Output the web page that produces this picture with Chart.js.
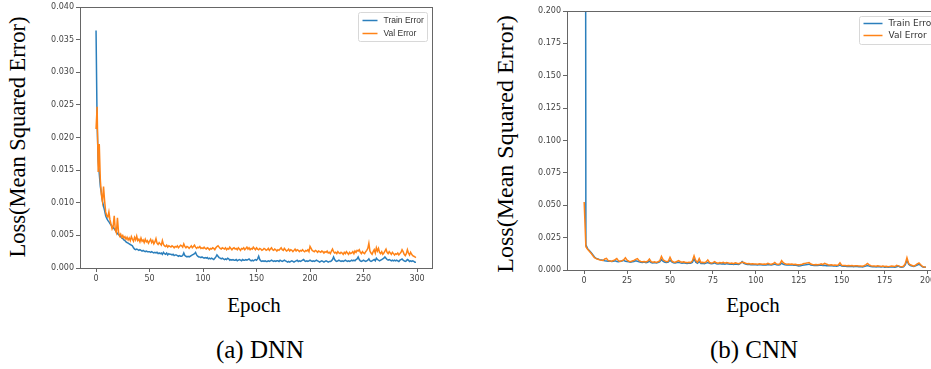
<!DOCTYPE html>
<html>
<head>
<meta charset="utf-8">
<script src="https://cdn.jsdelivr.net/npm/chart.js@4"></script>
<style>
  html, body { margin: 0; padding: 0; width: 931px; height: 369px; overflow: hidden; background: #fff; }
  canvas { position: absolute; top: 0; }
  .lbl { position: absolute; font-family: "Liberation Serif", "DejaVu Serif", serif; color: #000; line-height: 1; white-space: nowrap; }
  .ylab { transform: translate(-50%, -50%) rotate(-90deg); }
  .ctr { transform: translateX(-50%); }
</style>
</head>
<body>
<canvas id="dnn" width="400" height="290" style="left:40px"></canvas>
<canvas id="cnn" width="424" height="292" style="left:527px"></canvas>

<div class="lbl ylab" style="left:18px;top:137px;font-size:22.5px">Loss(Mean Squared Error)</div>
<div class="lbl ylab" style="left:505px;top:144px;font-size:24px">Loss(Mean Squared Error)</div>
<div class="lbl ctr" style="left:254px;top:295px;font-size:21px">Epoch</div>
<div class="lbl ctr" style="left:753px;top:295px;font-size:21px">Epoch</div>
<div class="lbl ctr" style="left:260px;top:337px;font-size:25px">(a) DNN</div>
<div class="lbl ctr" style="left:754px;top:337px;font-size:25px">(b) CNN</div>

<script>
// (a) DNN - 300 epochs
const dnnTrain = [
  0.0364, 0.0220, 0.0165, 0.0145, 0.0125, 0.0115, 0.0102, 0.0095, 0.0088, 0.0080,
  0.0076, 0.0073, 0.0071, 0.0068, 0.0066, 0.0064, 0.0062, 0.0060, 0.0058, 0.0055,
  0.0053, 0.0051, 0.0050, 0.0048, 0.0046, 0.0045, 0.0043, 0.0042, 0.0040, 0.0039,
  0.0038, 0.0037, 0.0036, 0.0035, 0.0034, 0.0031, 0.0029, 0.0028, 0.0029, 0.0028,
  0.0027, 0.0028, 0.0027, 0.0026, 0.0027, 0.0026, 0.0025, 0.0026, 0.0025, 0.0025,
  0.0025, 0.0024, 0.0025, 0.0024, 0.0023, 0.0024, 0.0023, 0.0024, 0.0022, 0.0023,
  0.0022, 0.0023, 0.0021, 0.0024, 0.0022, 0.0021, 0.0023, 0.0020, 0.0022, 0.0021,
  0.0021, 0.0020, 0.0021, 0.0019, 0.0020, 0.0020, 0.0019, 0.0018, 0.0019, 0.0018,
  0.0018, 0.0019, 0.0023, 0.0019, 0.0018, 0.0017, 0.0018, 0.0017, 0.0018, 0.0019,
  0.0020, 0.0021, 0.0022, 0.0024, 0.0020, 0.0018, 0.0017, 0.0017, 0.0016, 0.0017,
  0.0016, 0.0015, 0.0016, 0.0015, 0.0016, 0.0014, 0.0015, 0.0014, 0.0015, 0.0014,
  0.0013, 0.0015, 0.0017, 0.0020, 0.0018, 0.0016, 0.0015, 0.0014, 0.0015, 0.0014,
  0.0013, 0.0014, 0.0013, 0.0015, 0.0014, 0.0012, 0.0013, 0.0012, 0.0013, 0.0012,
  0.0012, 0.0013, 0.0011, 0.0012, 0.0013, 0.0012, 0.0011, 0.0013, 0.0012, 0.0012,
  0.0013, 0.0012, 0.0013, 0.0014, 0.0012, 0.0011, 0.0012, 0.0011, 0.0012, 0.0013,
  0.0012, 0.0014, 0.0018, 0.0013, 0.0011, 0.0010, 0.0011, 0.0010, 0.0011, 0.0010,
  0.0010, 0.0011, 0.0010, 0.0011, 0.0012, 0.0011, 0.0010, 0.0011, 0.0010, 0.0011,
  0.0011, 0.0010, 0.0012, 0.0011, 0.0010, 0.0011, 0.0012, 0.0011, 0.0010, 0.0009,
  0.0010, 0.0009, 0.0010, 0.0011, 0.0010, 0.0009, 0.0010, 0.0011, 0.0012, 0.0010,
  0.0011, 0.0010, 0.0011, 0.0012, 0.0013, 0.0011, 0.0010, 0.0011, 0.0010, 0.0011,
  0.0012, 0.0011, 0.0010, 0.0011, 0.0010, 0.0011, 0.0012, 0.0011, 0.0010, 0.0009,
  0.0010, 0.0011, 0.0010, 0.0009, 0.0010, 0.0011, 0.0010, 0.0009, 0.0010, 0.0010,
  0.0011, 0.0013, 0.0017, 0.0013, 0.0011, 0.0010, 0.0011, 0.0012, 0.0011, 0.0010,
  0.0011, 0.0010, 0.0011, 0.0012, 0.0011, 0.0010, 0.0011, 0.0010, 0.0011, 0.0012,
  0.0011, 0.0012, 0.0011, 0.0013, 0.0014, 0.0017, 0.0013, 0.0011, 0.0010, 0.0011,
  0.0012, 0.0011, 0.0010, 0.0011, 0.0012, 0.0014, 0.0011, 0.0010, 0.0011, 0.0012,
  0.0013, 0.0011, 0.0015, 0.0013, 0.0012, 0.0011, 0.0012, 0.0013, 0.0014, 0.0015,
  0.0017, 0.0015, 0.0013, 0.0012, 0.0013, 0.0012, 0.0011, 0.0012, 0.0011, 0.0012,
  0.0011, 0.0012, 0.0011, 0.0010, 0.0012, 0.0013, 0.0014, 0.0012, 0.0011, 0.0010,
  0.0011, 0.0013, 0.0012, 0.0010, 0.0011, 0.0010, 0.0011, 0.0010, 0.0009, 0.0009
];
const dnnVal = [
  0.0213, 0.0247, 0.0147, 0.0190, 0.0135, 0.0112, 0.0102, 0.0125, 0.0103, 0.0086,
  0.0080, 0.0078, 0.0086, 0.0074, 0.0067, 0.0060, 0.0064, 0.0080, 0.0058, 0.0054,
  0.0077, 0.0055, 0.0049, 0.0052, 0.0047, 0.0050, 0.0046, 0.0048, 0.0044, 0.0047,
  0.0043, 0.0046, 0.0042, 0.0048, 0.0044, 0.0041, 0.0047, 0.0043, 0.0049, 0.0042,
  0.0044, 0.0040, 0.0046, 0.0041, 0.0043, 0.0039, 0.0044, 0.0040, 0.0042, 0.0038,
  0.0041, 0.0044, 0.0039, 0.0042, 0.0037, 0.0040, 0.0045, 0.0038, 0.0036, 0.0039,
  0.0037, 0.0035, 0.0042, 0.0036, 0.0034, 0.0033, 0.0035, 0.0032, 0.0034, 0.0033,
  0.0032, 0.0034, 0.0033, 0.0031, 0.0033, 0.0032, 0.0034, 0.0031, 0.0033, 0.0035,
  0.0034, 0.0032, 0.0037, 0.0033, 0.0031, 0.0033, 0.0032, 0.0030, 0.0032, 0.0034,
  0.0031, 0.0033, 0.0035, 0.0032, 0.0030, 0.0032, 0.0031, 0.0033, 0.0030, 0.0031,
  0.0030, 0.0032, 0.0030, 0.0029, 0.0031, 0.0030, 0.0028, 0.0030, 0.0029, 0.0031,
  0.0030, 0.0028, 0.0031, 0.0033, 0.0034, 0.0032, 0.0030, 0.0029, 0.0031, 0.0030,
  0.0029, 0.0031, 0.0028, 0.0030, 0.0029, 0.0032, 0.0030, 0.0028, 0.0030, 0.0031,
  0.0029, 0.0030, 0.0028, 0.0031, 0.0029, 0.0027, 0.0030, 0.0029, 0.0031, 0.0028,
  0.0030, 0.0032, 0.0029, 0.0031, 0.0028, 0.0030, 0.0029, 0.0032, 0.0030, 0.0028,
  0.0031, 0.0029, 0.0028, 0.0030, 0.0029, 0.0027, 0.0028, 0.0030, 0.0029, 0.0027,
  0.0028, 0.0030, 0.0027, 0.0029, 0.0031, 0.0028, 0.0027, 0.0029, 0.0028, 0.0026,
  0.0028, 0.0027, 0.0029, 0.0031, 0.0028, 0.0027, 0.0030, 0.0028, 0.0026, 0.0027,
  0.0029, 0.0026, 0.0028, 0.0027, 0.0025, 0.0027, 0.0029, 0.0026, 0.0028, 0.0027,
  0.0025, 0.0027, 0.0026, 0.0028, 0.0026, 0.0025, 0.0027, 0.0026, 0.0028, 0.0025,
  0.0033, 0.0030, 0.0027, 0.0026, 0.0025, 0.0027, 0.0026, 0.0024, 0.0026, 0.0025,
  0.0024, 0.0026, 0.0025, 0.0023, 0.0025, 0.0024, 0.0026, 0.0023, 0.0024, 0.0022,
  0.0026, 0.0029, 0.0025, 0.0023, 0.0024, 0.0022, 0.0025, 0.0023, 0.0022, 0.0024,
  0.0023, 0.0021, 0.0024, 0.0022, 0.0025, 0.0023, 0.0021, 0.0024, 0.0022, 0.0023,
  0.0025, 0.0022, 0.0026, 0.0024, 0.0027, 0.0026, 0.0028, 0.0024, 0.0022, 0.0025,
  0.0023, 0.0022, 0.0025, 0.0027, 0.0030, 0.0038, 0.0026, 0.0023, 0.0021, 0.0025,
  0.0028, 0.0023, 0.0031, 0.0026, 0.0030, 0.0024, 0.0022, 0.0025, 0.0021, 0.0023,
  0.0026, 0.0029, 0.0024, 0.0022, 0.0025, 0.0023, 0.0021, 0.0024, 0.0022, 0.0020,
  0.0022, 0.0021, 0.0023, 0.0020, 0.0022, 0.0024, 0.0028, 0.0025, 0.0021, 0.0019,
  0.0022, 0.0028, 0.0023, 0.0020, 0.0024, 0.0021, 0.0019, 0.0018, 0.0017, 0.0016
];
const dnnXTicks = [0, 50, 100, 150, 200, 250, 300];
const dnnYTicks = [0, 0.005, 0.010, 0.015, 0.020, 0.025, 0.030, 0.035, 0.040];

// (b) CNN - 200 epochs (first train value runs off the top of the axes)
const cnnTrain = [
  1.5, 0.0195, 0.0165, 0.0150, 0.0135, 0.0118, 0.0100, 0.0090, 0.0085, 0.0080,
  0.0078, 0.0075, 0.0072, 0.0070, 0.0068, 0.0070, 0.0066, 0.0068, 0.0072, 0.0066,
  0.0064, 0.0067, 0.0070, 0.0075, 0.0068, 0.0065, 0.0063, 0.0060, 0.0064, 0.0066,
  0.0072, 0.0068, 0.0064, 0.0060, 0.0058, 0.0061, 0.0057, 0.0060, 0.0068, 0.0058,
  0.0055, 0.0057, 0.0054, 0.0058, 0.0062, 0.0080, 0.0066, 0.0060, 0.0058, 0.0062,
  0.0075, 0.0062, 0.0056, 0.0054, 0.0057, 0.0060, 0.0055, 0.0053, 0.0056, 0.0052,
  0.0051, 0.0054, 0.0052, 0.0058, 0.0085, 0.0060, 0.0052, 0.0065, 0.0050, 0.0052,
  0.0049, 0.0053, 0.0058, 0.0051, 0.0048, 0.0050, 0.0055, 0.0049, 0.0047, 0.0050,
  0.0046, 0.0048, 0.0045, 0.0049, 0.0047, 0.0044, 0.0046, 0.0043, 0.0047, 0.0045,
  0.0043, 0.0050, 0.0065, 0.0052, 0.0046, 0.0042, 0.0044, 0.0041, 0.0043, 0.0040,
  0.0041, 0.0039, 0.0042, 0.0040, 0.0038, 0.0041, 0.0039, 0.0043, 0.0040, 0.0038,
  0.0042, 0.0045, 0.0040, 0.0038, 0.0041, 0.0052, 0.0044, 0.0040, 0.0039, 0.0041,
  0.0038, 0.0040, 0.0037, 0.0039, 0.0035, 0.0031, 0.0033, 0.0036, 0.0038, 0.0040,
  0.0043, 0.0045, 0.0039, 0.0036, 0.0035, 0.0037, 0.0034, 0.0036, 0.0038, 0.0035,
  0.0036, 0.0033, 0.0035, 0.0032, 0.0034, 0.0031, 0.0033, 0.0030, 0.0032, 0.0038,
  0.0031, 0.0029, 0.0030, 0.0028, 0.0029, 0.0027, 0.0029, 0.0026, 0.0028, 0.0027,
  0.0025, 0.0026, 0.0024, 0.0027, 0.0030, 0.0035, 0.0030, 0.0027, 0.0025, 0.0026,
  0.0024, 0.0027, 0.0025, 0.0023, 0.0026, 0.0022, 0.0024, 0.0021, 0.0023, 0.0025,
  0.0024, 0.0022, 0.0025, 0.0030, 0.0023, 0.0021, 0.0024, 0.0040, 0.0075, 0.0045,
  0.0035, 0.0030, 0.0028, 0.0032, 0.0038, 0.0045, 0.0035, 0.0025, 0.0022, 0.0024
];
const cnnVal = [
  0.0525, 0.0180, 0.0160, 0.0145, 0.0130, 0.0112, 0.0095, 0.0088, 0.0083, 0.0078,
  0.0075, 0.0073, 0.0085, 0.0090, 0.0072, 0.0070, 0.0068, 0.0073, 0.0080, 0.0088,
  0.0070, 0.0066, 0.0072, 0.0078, 0.0095, 0.0076, 0.0068, 0.0064, 0.0070, 0.0074,
  0.0082, 0.0088, 0.0072, 0.0066, 0.0064, 0.0066, 0.0062, 0.0068, 0.0085, 0.0065,
  0.0060, 0.0063, 0.0059, 0.0064, 0.0070, 0.0105, 0.0078, 0.0070, 0.0064, 0.0068,
  0.0098, 0.0070, 0.0062, 0.0060, 0.0066, 0.0072, 0.0064, 0.0060, 0.0063, 0.0058,
  0.0057, 0.0060, 0.0058, 0.0070, 0.0110, 0.0072, 0.0060, 0.0088, 0.0058, 0.0060,
  0.0056, 0.0062, 0.0078, 0.0058, 0.0055, 0.0057, 0.0065, 0.0056, 0.0053, 0.0058,
  0.0054, 0.0060, 0.0052, 0.0058, 0.0055, 0.0050, 0.0054, 0.0049, 0.0056, 0.0052,
  0.0049, 0.0055, 0.0060, 0.0058, 0.0052, 0.0048, 0.0050, 0.0047, 0.0049, 0.0046,
  0.0047, 0.0045, 0.0048, 0.0046, 0.0044, 0.0047, 0.0045, 0.0052, 0.0046, 0.0044,
  0.0048, 0.0058, 0.0046, 0.0044, 0.0047, 0.0072, 0.0056, 0.0048, 0.0045, 0.0047,
  0.0044, 0.0046, 0.0043, 0.0045, 0.0041, 0.0040, 0.0042, 0.0045, 0.0050, 0.0052,
  0.0055, 0.0058, 0.0046, 0.0042, 0.0041, 0.0043, 0.0040, 0.0042, 0.0048, 0.0041,
  0.0052, 0.0046, 0.0041, 0.0038, 0.0040, 0.0037, 0.0039, 0.0036, 0.0038, 0.0055,
  0.0036, 0.0034, 0.0035, 0.0033, 0.0034, 0.0032, 0.0034, 0.0031, 0.0033, 0.0032,
  0.0030, 0.0031, 0.0029, 0.0033, 0.0040, 0.0050, 0.0040, 0.0033, 0.0030, 0.0031,
  0.0029, 0.0033, 0.0030, 0.0028, 0.0031, 0.0027, 0.0029, 0.0026, 0.0028, 0.0030,
  0.0029, 0.0027, 0.0036, 0.0032, 0.0028, 0.0026, 0.0029, 0.0048, 0.0095, 0.0050,
  0.0040, 0.0035, 0.0030, 0.0038, 0.0048, 0.0055, 0.0040, 0.0028, 0.0024, 0.0022
];
const cnnXTicks = [0, 25, 50, 75, 100, 125, 150, 175, 200];
const cnnYTicks = [0, 0.025, 0.050, 0.075, 0.100, 0.125, 0.150, 0.175, 0.200];

const seriesNames = ['Train Error', 'Val Error'];
const blue = '#2b7fbc';
const orange = '#ff8317';

// box round the axes, like matplotlib spines
const frame = {
  id: 'frame',
  afterDatasetsDraw(chart) {
    const a = chart.chartArea;
    const ctx = chart.ctx;
    ctx.save();
    ctx.strokeStyle = '#666';
    ctx.lineWidth = 1;
    ctx.strokeRect(Math.round(a.left) + 0.5, Math.round(a.top) + 0.5,
      Math.round(a.right - a.left), Math.round(a.bottom - a.top));
    ctx.restore();
  }
};

// legend box inside the axes, top right
const legendBox = {
  id: 'legendBox',
  afterDraw(chart, args, o) {
    const a = chart.chartArea;
    const ctx = chart.ctx;
    const x = Math.round(a.right - o.right - o.width) + 0.5;
    const y = Math.round(a.top + o.top) + 0.5;
    ctx.save();
    ctx.fillStyle = 'rgba(255,255,255,0.85)';
    ctx.strokeStyle = '#d8d8d8';
    ctx.lineWidth = 1;
    ctx.beginPath();
    ctx.roundRect(x, y, o.width, o.height, 2);
    ctx.fill();
    ctx.stroke();
    chart.data.datasets.forEach((ds, i) => {
      const ly = y + o.rows[i];
      ctx.strokeStyle = ds.borderColor;
      ctx.lineWidth = 1.5;
      ctx.beginPath();
      ctx.moveTo(x + o.lineX, ly);
      ctx.lineTo(x + o.lineX + o.lineLen, ly);
      ctx.stroke();
      ctx.fillStyle = '#333';
      ctx.font = o.font;
      ctx.textBaseline = 'middle';
      ctx.fillText(ds.label, x + o.textX, ly);
    });
    ctx.restore();
  }
};

function makeChart(id, train, val, xTicks, yTicks, xMin, xMax, pad, legend) {
  const epochs = Array.from({ length: train.length }, (_, i) => i);
  const tickFont = { family: 'DejaVu Sans', size: 8 };
  return new Chart(document.getElementById(id), {
    type: 'line',
    data: {
      labels: epochs,
      datasets: [
        // val drawn over train, as in the matplotlib original
        { label: seriesNames[0], data: train, borderColor: blue, borderWidth: 1.5, order: 1 },
        { label: seriesNames[1], data: val, borderColor: orange, borderWidth: 1.5, order: 0 }
      ]
    },
    options: {
      responsive: false,
      animation: false,
      devicePixelRatio: 1,
      elements: { point: { radius: 0 }, line: { tension: 0 } },
      layout: { padding: pad },
      plugins: {
        legend: { display: false },
        tooltip: { enabled: false },
        legendBox: legend
      },
      scales: {
        x: {
          type: 'linear',
          min: xMin,
          max: xMax,
          afterBuildTicks: s => { s.ticks = xTicks.map(v => ({ value: v })); },
          afterFit: s => { s.height = 22; },
          grid: { drawOnChartArea: false, drawTicks: true, tickLength: 4, color: '#666' },
          border: { display: false },
          ticks: { font: tickFont, color: '#444', padding: 2, maxRotation: 0 }
        },
        y: {
          min: yTicks[0],
          max: yTicks[yTicks.length - 1],
          afterBuildTicks: s => { s.ticks = yTicks.map(v => ({ value: v })); },
          afterFit: s => { s.width = 40; },
          grid: { drawOnChartArea: false, drawTicks: true, tickLength: 4, color: '#666' },
          border: { display: false },
          ticks: { font: tickFont, color: '#444', padding: 2, callback: v => v.toFixed(3) }
        }
      }
    },
    plugins: [frame, legendBox]
  });
}

makeChart('dnn', dnnTrain, dnnVal, dnnXTicks, dnnYTicks, -15, 314,
  { top: 7, right: 8, left: 0, bottom: 0 },
  { right: 5, top: 5, width: 69, height: 29, rows: [8, 21], lineX: 4, lineLen: 15, textX: 25, font: '8.5px "Liberation Sans"' });

makeChart('cnn', cnnTrain, cnnVal, cnnXTicks, cnnYTicks, -10, 209,
  { top: 11, right: 8, left: 0, bottom: 0 },
  { right: 3, top: 5, width: 81, height: 28, rows: [7, 19], lineX: 4, lineLen: 19, textX: 29, font: '9px "DejaVu Sans"' });
</script>
</body>
</html>
